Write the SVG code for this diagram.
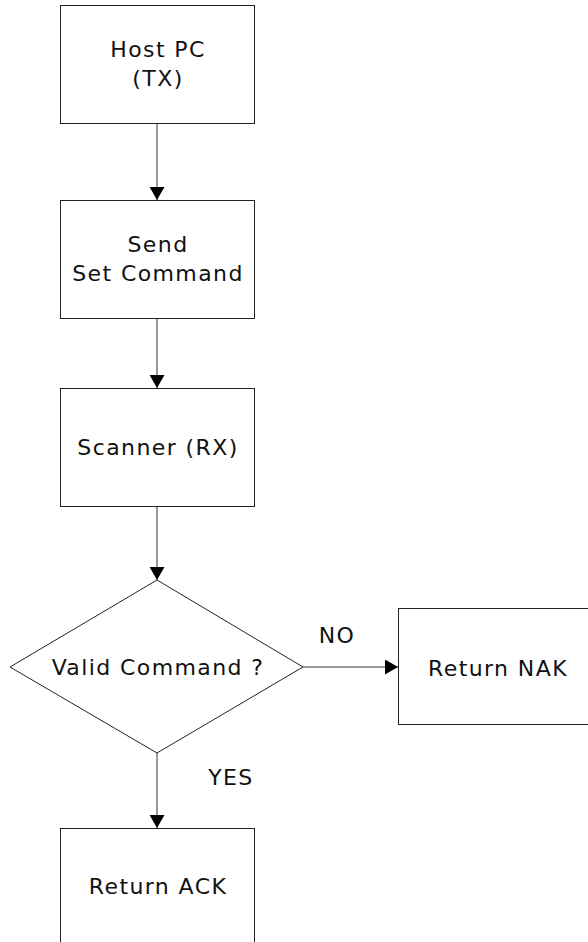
<svg xmlns="http://www.w3.org/2000/svg" width="588" height="942" viewBox="0 0 588 942">
  <style>
    .box { fill: #fff; stroke: #222; stroke-width: 1; }
    .line { fill: none; stroke: #333; stroke-width: 1; }
    .t { font-family: "DejaVu Sans", Verdana, sans-serif; font-size: 22px; fill: #111; text-anchor: middle; letter-spacing: 1.4px; }
  </style>
  <defs>
    <marker id="arrow" markerWidth="14" markerHeight="15" refX="13" refY="7.5" orient="auto" markerUnits="userSpaceOnUse">
      <path d="M0,0 L13,7.5 L0,15 Z" fill="#000"/>
    </marker>
  </defs>
  <rect width="588" height="942" fill="#fff"/>

  <g id="connectors">
    <line class="line" x1="157" y1="123" x2="157" y2="200" marker-end="url(#arrow)"/>
    <line class="line" x1="157" y1="318" x2="157" y2="388" marker-end="url(#arrow)"/>
    <line class="line" x1="157" y1="506" x2="157" y2="580" marker-end="url(#arrow)"/>
    <line class="line" x1="303" y1="667" x2="398" y2="667" marker-end="url(#arrow)"/>
    <line class="line" x1="157" y1="753" x2="157" y2="828" marker-end="url(#arrow)"/>
    <text class="t" x="337" y="643">NO</text>
    <text class="t" x="231" y="785">YES</text>
  </g>

  <g id="host">
    <rect class="box" x="60.5" y="5.5" width="194" height="118"/>
    <text class="t" x="158" y="57">Host PC</text>
    <text class="t" x="158" y="86">(TX)</text>
  </g>

  <g id="send">
    <rect class="box" x="60.5" y="200.5" width="194" height="118"/>
    <text class="t" x="158" y="252">Send</text>
    <text class="t" x="158" y="281">Set Command</text>
  </g>

  <g id="scanner">
    <rect class="box" x="60.5" y="388.5" width="194" height="118"/>
    <text class="t" x="158" y="455">Scanner (RX)</text>
  </g>

  <g id="valid">
    <polygon class="box" points="157,580 303,667 157,753 10,667"/>
    <text class="t" x="158" y="675">Valid Command ?</text>
  </g>

  <g id="nak">
    <rect class="box" x="398.5" y="608.5" width="194" height="116"/>
    <text class="t" x="498" y="676">Return NAK</text>
  </g>

  <g id="ack">
    <rect class="box" x="60.5" y="828.5" width="194" height="118"/>
    <text class="t" x="158" y="894">Return ACK</text>
  </g>
</svg>
